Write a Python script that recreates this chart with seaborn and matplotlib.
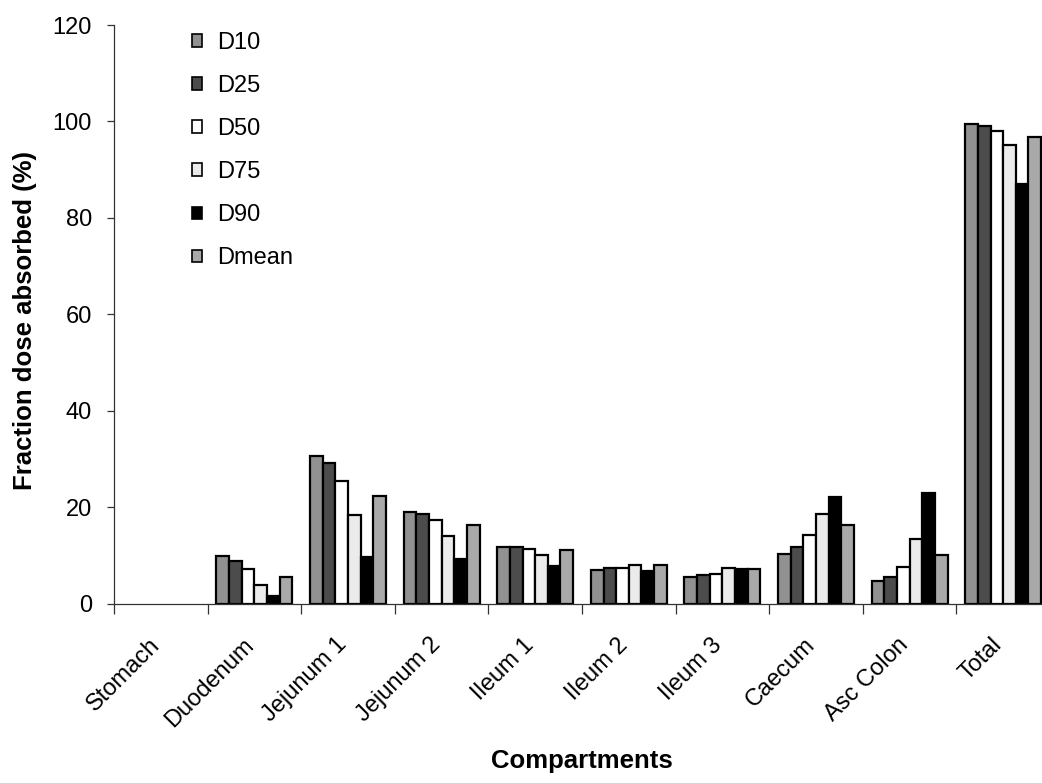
import matplotlib
matplotlib.use("Agg")
import matplotlib.pyplot as plt
import matplotlib.patches as mpatches
from matplotlib.transforms import ScaledTranslation
import numpy as np
import pandas as pd
import seaborn as sns

# Fraction of dose absorbed (%) per GI compartment for each particle-size descriptor
compartments = ["Stomach", "Duodenum", "Jejunum 1", "Jejunum 2", "Ileum 1",
                "Ileum 2", "Ileum 3", "Caecum", "Asc Colon", "Total"]
series_names = ["D10", "D25", "D50", "D75", "D90", "Dmean"]

d10 = [0, 9.8, 30.5, 19.0, 11.7, 7.0, 5.4, 10.3, 4.7, 99.4]
d25 = [0, 8.9, 29.2, 18.5, 11.7, 7.4, 5.9, 11.8, 5.4, 99.0]
d50 = [0, 7.2, 25.5, 17.3, 11.4, 7.3, 6.2, 14.2, 7.5, 98.0]
d75 = [0, 3.9, 18.4, 14.1, 10.1, 7.9, 7.4, 18.6, 13.4, 95.2]
d90 = [0, 1.6, 9.6, 9.3, 7.8, 6.7, 7.1, 22.1, 22.9, 87.1]
dmean = [0, 5.6, 22.3, 16.2, 11.1, 7.9, 7.2, 16.2, 10.0, 96.7]

y_ticks = [0, 20, 40, 60, 80, 100, 120]

fills = ["#919191", "#4c4c4c", "#ffffff", "#ebebeb", "#000000", "#a9a9a9"]

values = [d10, d25, d50, d75, d90, dmean]
df = pd.DataFrame({
    "Compartment": np.tile(compartments, len(series_names)),
    "Series": np.repeat(series_names, len(compartments)),
    "Value": np.concatenate(values),
})

sns.set_style("white")
plt.rcParams["font.family"] = ["Liberation Sans", "DejaVu Sans"]
plt.rcParams["text.color"] = "black"
plt.rcParams["axes.labelcolor"] = "black"
plt.rcParams["xtick.color"] = "black"
plt.rcParams["ytick.color"] = "black"

FS = 17          # tick labels and legend
TITLE_FS = 18.5  # axis titles

fig = plt.figure(figsize=(10.42, 7.83), dpi=100)
W, H = 1042, 783
left_px, right_px, top_px, base_px = 114, 1050, 25, 603.5
ax_w, ax_h = right_px - left_px, base_px - top_px
ax = fig.add_axes([left_px / W, 1 - base_px / H, ax_w / W, ax_h / H])

sns.barplot(data=df, x="Compartment", y="Value", hue="Series",
            order=compartments, hue_order=series_names,
            palette=fills, edgecolor="black", linewidth=1.6,
            width=0.81, errorbar=None, legend=False, ax=ax, saturation=1)

# empty bars (zero absorption) leave no outline
for bar in ax.patches:
    if bar.get_height() == 0:
        bar.set_linewidth(0)

ax.set_xlim(-0.5, len(compartments) - 0.5)
ax.set_ylim(0, 120)
ax.set_yticks(y_ticks)
ax.set_yticklabels([str(t) for t in y_ticks], fontsize=FS)

# category labels at centres, tick marks on the category boundaries
ax.set_xticks(np.arange(len(compartments)))
ax.set_xticklabels(compartments, rotation=45, ha="right", va="baseline",
                   rotation_mode="anchor", fontsize=FS)
shift = ScaledTranslation(-0.12, 0, fig.dpi_scale_trans)
for lab in ax.get_xticklabels():
    lab.set_transform(lab.get_transform() + shift)
ax.tick_params(axis="x", which="major", length=0, pad=30.5)
ax.set_xticks(np.arange(len(compartments) + 1) - 0.5, minor=True)
ax.tick_params(axis="x", which="minor", length=7, width=0.9,
               direction="out", color="#333333", bottom=True)
ax.tick_params(axis="y", which="major", length=5, width=0.9,
               direction="out", color="#333333", left=True, pad=10.8)

for side in ["top", "right"]:
    ax.spines[side].set_visible(False)
for side in ["left", "bottom"]:
    ax.spines[side].set_color("#333333")
    ax.spines[side].set_linewidth(0.9)

ax.set_xlabel("Compartments", fontsize=TITLE_FS, fontweight="bold",
              va="baseline")
ax.xaxis.set_label_coords(0.5, -(768 - base_px) / ax_h)
ax.set_ylabel("Fraction dose absorbed (%)", fontsize=TITLE_FS,
              fontweight="bold")
ax.yaxis.set_label_coords((37 - left_px) / ax_w, 0.49)

handles = [mpatches.Patch(facecolor=c, edgecolor="black", linewidth=1.2, label=n)
           for c, n in zip(fills, series_names)]
ax.legend(handles=handles, loc="upper left",
          bbox_to_anchor=((192 - left_px) / ax_w, 1 - (32 - top_px) / ax_h),
          frameon=False, fontsize=FS, handlelength=0.42, handleheight=0.42,
          handletextpad=0.64, labelspacing=0.89, borderaxespad=0,
          borderpad=0)

fig.savefig("out.png", dpi=100)
